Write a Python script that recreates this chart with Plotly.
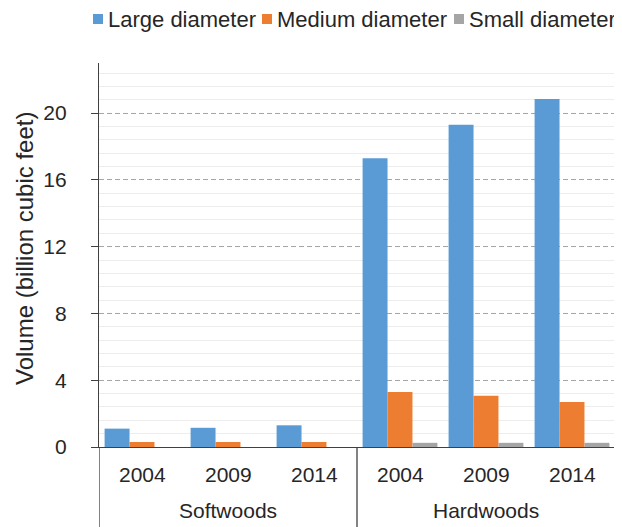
"""Standing timber volume by diameter class, softwoods vs hardwoods"""
import plotly.graph_objects as go

groups = ["Softwoods", "Hardwoods"]
years = ["2004", "2009", "2014", "2004", "2009", "2014"]
large = [1.1, 1.15, 1.3, 17.3, 19.3, 20.85]
medium = [0.3, 0.3, 0.3, 3.3, 3.07, 2.7]
small = [0.0, 0.0, 0.0, 0.25, 0.25, 0.25]

names = ["Large diameter", "Medium diameter", "Small diameter"]
colors = ["#5B9BD5", "#ED7D31", "#A5A5A5"]

# page body adds an 8px offset, so positions below are screen px minus 8
OFF = 8
W, H = 622 - OFF, 527 - OFF
PL, PR, PT, PB = 99 - OFF, 615 - OFF, 63 - OFF, 447 - OFF


def px_x(px):
    """screen x pixel -> paper coordinate"""
    return (px - OFF - PL) / (PR - PL)


def px_y(py):
    """screen y pixel -> paper coordinate"""
    return (PB - (py - OFF)) / (PB - PT)


xs = list(range(len(years)))

fig = go.Figure()
for name, vals, color in zip(names, [large, medium, small], colors):
    fig.add_trace(
        go.Bar(
            x=xs,
            y=vals,
            name=name,
            marker={"color": color, "line": {"width": 0}},
            showlegend=False,
        )
    )

axis_color = "#404040"
text_color = "#262626"

fig.update_layout(
    width=W,
    height=H,
    barmode="group",
    bargap=0.13,
    bargroupgap=0,
    plot_bgcolor="white",
    paper_bgcolor="white",
    font={"family": "Liberation Sans, Arial", "size": 21, "color": text_color},
    margin={"l": PL, "r": W - PR, "t": PT, "b": H - PB, "autoexpand": False},
    showlegend=False,
)

fig.update_yaxes(
    range=[0, 23],
    dtick=4,
    tick0=0,
    showgrid=True,
    gridcolor="#A6A6A6",
    griddash="5px,3px",
    gridwidth=1,
    minor={
        "dtick": 0.8,
        "showgrid": True,
        "gridcolor": "#EDEDED",
        "gridwidth": 1,
        "griddash": "solid",
    },
    showline=True,
    linecolor=axis_color,
    linewidth=1.3,
    ticks="outside",
    ticklen=7,
    tickcolor=axis_color,
    ticklabelstandoff=20,
    tickfont={"size": 21, "color": text_color},
    zeroline=False,
)

fig.update_xaxes(
    range=[-0.5, len(years) - 0.5],
    showline=True,
    linecolor=axis_color,
    linewidth=1.3,
    showgrid=False,
    zeroline=False,
    showticklabels=False,
    ticks="",
)

# year labels and group labels under the axis
for i, yr in enumerate(years):
    fig.add_annotation(
        x=i, y=px_y(474), xref="x", yref="paper", text=yr,
        showarrow=False, yanchor="middle", font={"size": 21, "color": text_color},
    )
n_per = len(years) // len(groups)
for g, grp in enumerate(groups):
    fig.add_annotation(
        x=g * n_per + (n_per - 1) / 2, y=px_y(510), xref="x", yref="paper", text=grp,
        showarrow=False, yanchor="middle", font={"size": 21, "color": text_color},
    )
# group dividers
for g in range(len(groups) + 1):
    fig.add_shape(
        type="line", xref="x", yref="paper",
        x0=g * n_per - 0.5, x1=g * n_per - 0.5, y0=0, y1=px_y(530),
        line={"color": axis_color, "width": 1.3},
    )

# y-axis title
fig.add_annotation(
    x=px_x(24), y=px_y(249), xref="paper", yref="paper",
    text="Volume (billion cubic feet)", textangle=-90, showarrow=False,
    xanchor="center", yanchor="middle", font={"size": 24, "color": text_color},
)

# legend: small squares + text
legend_text_x = [106, 275, 467]
leg_y = 19
for name, color, tx in zip(names, colors, legend_text_x):
    fig.add_shape(
        type="rect", xref="paper", yref="paper",
        x0=px_x(tx - 13), x1=px_x(tx - 3), y0=px_y(leg_y + 5), y1=px_y(leg_y - 5),
        fillcolor=color, line={"width": 0},
    )
    fig.add_annotation(
        x=px_x(tx), y=px_y(leg_y), xref="paper", yref="paper", text=name,
        showarrow=False, xanchor="left", yanchor="middle",
        font={"size": 22, "color": text_color},
    )

fig.write_html("out.html")
